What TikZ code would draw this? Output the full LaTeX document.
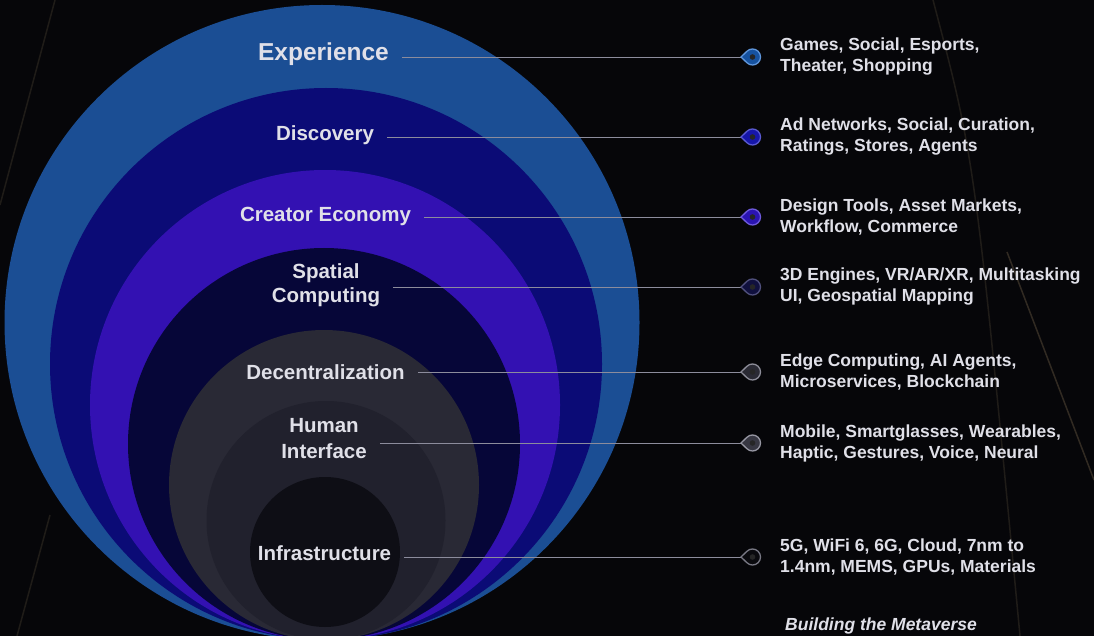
\documentclass[tikz,border=0pt]{standalone}
\usepackage{fontspec}
\setmainfont{Liberation Sans}
\usetikzlibrary{positioning}

\definecolor{bgdark}{RGB}{6,6,9}
\definecolor{streakcol}{RGB}{150,128,95}
\definecolor{ringExp}{RGB}{27,78,148}
\definecolor{ringDisc}{RGB}{11,11,118}
\definecolor{ringCreat}{RGB}{51,17,178}
\definecolor{ringSpat}{RGB}{6,6,56}
\definecolor{ringDec}{RGB}{41,41,53}
\definecolor{ringHum}{RGB}{33,33,45}
\definecolor{ringInf}{RGB}{14,14,21}
\definecolor{labelgray}{RGB}{224,224,232}
\definecolor{linkgray}{RGB}{140,140,156}

\tikzset{
  lbl/.style={font=\bfseries\fontsize{20.5}{24}\selectfont, text=labelgray,
    align=center, inner sep=0pt, anchor=base},
  desc/.style={font=\bfseries\fontsize{17.5}{21}\selectfont, text=labelgray,
    align=left, inner sep=0pt},
  link/.style={draw=linkgray, line width=0.9pt, shorten <=13pt},
  streak/.style={draw=streakcol, line width=1.5pt, opacity=0.18},
  pinmark/.pic={
    \path[pic actions, line width=1.3pt] (0,0) -- (5.94,5.75)
      arc[start angle=134, end angle=-134, radius=8] -- cycle;
    \fill[black!85] (11.5,0) circle[radius=2.8];
  }
}

\begin{document}
\begin{tikzpicture}[x=1pt, y=-1pt]
  \clip (0,0) rectangle (1094,636);
  % Background with faint light streaks
  \fill[bgdark] (0,0) rectangle (1094,636);
  \draw[streak] (55,0) -- (0,205);
  \draw[streak] (50,515) -- (17,636);
  \draw[streak] (933,0) .. controls (975,160) .. (1020,636);
  \draw[streak, opacity=0.3] (1007,252) -- (1094,480);

  % Nested rings, outer to inner
  \fill[ringExp] (322,322.5) circle[radius=317.5];
  \fill[ringDisc] (326,364) circle[radius=276];
  \fill[ringCreat] (325,405) circle[radius=235];
  \fill[ringSpat] (324,444) circle[radius=196];
  \fill[ringDec] (324,485) circle[radius=155];
  \fill[ringHum] (326,520.5) circle[radius=119.5];
  \fill[ringInf] (325,552) circle[radius=75];

  % Layer names
  \node[lbl, font=\bfseries\fontsize{24.5}{28}\selectfont] (expLbl) at (323.5,61) {Experience};
  \node[lbl] (discLbl) at (325,140.5) {Discovery};
  \node[lbl] (creatLbl) at (325.5,221.5) {Creator Economy};
  \node[lbl] (spatLbl) at (326,302.5) {Spatial\\Computing};
  \node[lbl] (decLbl) at (325.5,379) {Decentralization};
  \node[lbl, font=\bfseries\fontsize{20.5}{26}\selectfont] (humLbl) at (324,458.5) {Human\\Interface};
  \node[lbl] (infLbl) at (324.5,560.5) {Infrastructure};

  % Pin tips
  \coordinate (expPin) at (741,57);
  \coordinate (discPin) at (741,137);
  \coordinate (creatPin) at (741,217);
  \coordinate (spatPin) at (741,287);
  \coordinate (decPin) at (741,372);
  \coordinate (humPin) at (741,443);
  \coordinate (infPin) at (741,557);

  % Connectors
  \draw[link] (expLbl.east |- expPin) -- (expPin);
  \draw[link] (discLbl.east |- discPin) -- (discPin);
  \draw[link] (creatLbl.east |- creatPin) -- (creatPin);
  \draw[link] (spatLbl.east |- spatPin) -- (spatPin);
  \draw[link] (decLbl.east |- decPin) -- (decPin);
  \draw[link] (humLbl.east |- humPin) -- (humPin);
  \draw[link] (infLbl.east |- infPin) -- (infPin);

  % Pins
  \pic[draw={rgb,255:red,95;green,150;blue,220}, fill={rgb,255:red,22;green,82;blue,160}] at (expPin) {pinmark};
  \pic[draw={rgb,255:red,90;green,90;blue,210}, fill={rgb,255:red,22;green,22;blue,170}] at (discPin) {pinmark};
  \pic[draw={rgb,255:red,110;green,90;blue,220}, fill={rgb,255:red,42;green,20;blue,178}] at (creatPin) {pinmark};
  \pic[draw={rgb,255:red,80;green,80;blue,125}, fill={rgb,255:red,16;green,16;blue,62}] at (spatPin) {pinmark};
  \pic[draw={rgb,255:red,140;green,140;blue,152}, fill={rgb,255:red,42;green,42;blue,52}] at (decPin) {pinmark};
  \pic[draw={rgb,255:red,150;green,150;blue,162}, fill={rgb,255:red,55;green,55;blue,66}] at (humPin) {pinmark};
  \pic[draw={rgb,255:red,120;green,120;blue,132}, fill={rgb,255:red,10;green,10;blue,14}] at (infPin) {pinmark};

  % Descriptions
  \node[desc, right=39pt of expPin] (expTxt) {Games, Social, Esports,\\Theater, Shopping};
  \node[desc, right=39pt of discPin] (discTxt) {Ad Networks, Social, Curation,\\Ratings, Stores, Agents};
  \node[desc, right=39pt of creatPin] (creatTxt) {Design Tools, Asset Markets,\\Workflow, Commerce};
  \node[desc, right=39pt of spatPin] (spatTxt) {3D Engines, VR/AR/XR, Multitasking\\UI, Geospatial Mapping};
  \node[desc, right=39pt of decPin] (decTxt) {Edge Computing, AI Agents,\\Microservices, Blockchain};
  \node[desc, right=39pt of humPin] (humTxt) {Mobile, Smartglasses, Wearables,\\Haptic, Gestures, Voice, Neural};
  \node[desc, right=39pt of infPin] (infTxt) {5G, WiFi 6, 6G, Cloud, 7nm to\\1.4nm, MEMS, GPUs, Materials};

  \node[font=\bfseries\itshape\fontsize{17.5}{21}\selectfont, text=labelgray,
    inner sep=0pt, anchor=base west] (titleTxt) at (785,630.5) {Building the Metaverse};
\end{tikzpicture}
\end{document}
